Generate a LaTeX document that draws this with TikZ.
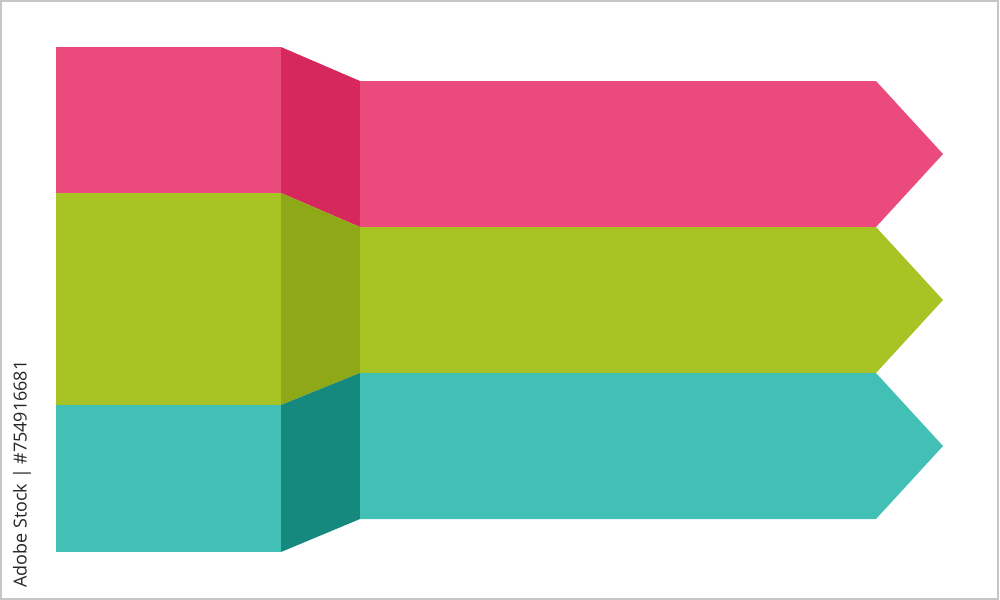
\documentclass[tikz,border=0pt]{standalone}
\usepackage{fontspec}
\setsansfont{Open Sans}
\definecolor{pinkfront}{HTML}{EB4A7D}
\definecolor{pinkside}{HTML}{D6285C}
\definecolor{greenfront}{HTML}{A8C424}
\definecolor{greenside}{HTML}{8EA817}
\definecolor{tealfront}{HTML}{42C0B5}
\definecolor{tealside}{HTML}{15897D}
\begin{document}
\begin{tikzpicture}[x=0.01cm,y=-0.01cm]
    \useasboundingbox (0,0) rectangle (1000,600);
    %draw frame
    \draw[line width=0.6pt,gray!45] (0.5,0.5) rectangle (998,599.5);
    %draw front blocks
    \fill[pinkfront] (56,47) rectangle (281,193);
    \fill[greenfront] (56,193) rectangle (281,405);
    \fill[tealfront] (56,405) rectangle (281,552);
    %draw side faces
    \fill[pinkside] (281,47) -- (360,81) -- (360,227) -- (281,193) -- cycle;
    \fill[greenside] (281,193) -- (360,227) -- (360,373) -- (281,405) -- cycle;
    \fill[tealside] (281,405) -- (360,373) -- (360,519) -- (281,552) -- cycle;
    %draw arrows
    \foreach \y/\c in {81/pinkfront,227/greenfront,373/tealfront}
        {%
            \fill[\c] (360,\y) -- (876,\y) -- (943,\y+73) -- (876,\y+146) -- (360,\y+146) -- cycle;
        }
    %draw stock label
    \node[rotate=90,text=black!85,font=\sffamily\fontsize{5.1}{6}\selectfont,inner sep=0pt] (stocklabel) at (22,474) {Adobe Stock | \#754916681};
\end{tikzpicture}
\end{document}
